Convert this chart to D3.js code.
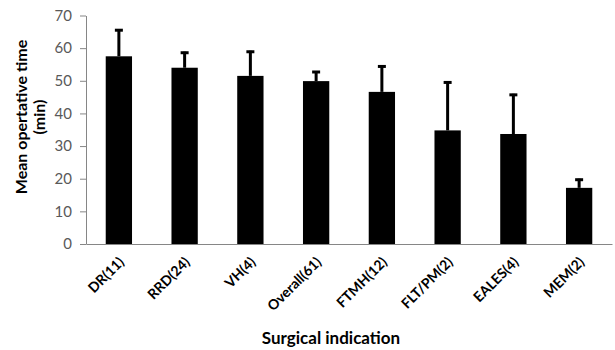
<!DOCTYPE html>
<html>
<head>
<meta charset="utf-8">
<script src="https://cdn.jsdelivr.net/npm/d3@7"></script>
<style>
  html, body { margin: 0; padding: 0; background: #fff; }
  svg { display: block; }
</style>
</head>
<body>
<svg id="chart" width="615" height="350"></svg>
<script>
// Surgical indications with case counts
const categories = ["DR(11)", "RRD(24)", "VH(4)", "Overall(61)", "FTMH(12)", "FLT/PM(2)", "EALES(4)", "MEM(2)"];
// Mean operative time (min)
const meanTime = [57.5, 54.0, 51.5, 49.9, 46.6, 34.8, 33.7, 17.2];
// Upper end of the error bar (mean + SD)
const upperTime = [65.8, 58.9, 59.2, 53.0, 54.7, 49.8, 46.0, 20.0];
const yTicks = [0, 10, 20, 30, 40, 50, 60, 70];

const svg = d3.select("#chart");
const plot = { left: 86, right: 612, top: 15.5, bottom: 244 };
const font = "Lato, 'Open Sans', sans-serif";

const x = d3.scaleBand().domain(categories).range([plot.left, plot.right]).paddingInner(0.6).paddingOuter(0.3);
const y = d3.scaleLinear().domain([0, 70]).range([plot.bottom, plot.top]);

// Y axis
const yAxis = svg.append("g")
  .attr("transform", `translate(${plot.left},0)`)
  .call(d3.axisLeft(y).tickValues(yTicks).tickSize(6).tickSizeOuter(0).tickPadding(8).tickFormat(d3.format("d")));
yAxis.select(".domain").attr("stroke", "#868686").attr("stroke-width", 1);
yAxis.selectAll(".tick line").attr("stroke", "#868686");
yAxis.selectAll(".tick text")
  .attr("fill", "#595959")
  .style("font-family", font)
  .style("font-size", "15px");

// Bars
svg.append("g").selectAll("rect")
  .data(categories)
  .join("rect")
  .attr("x", d => x(d))
  .attr("width", x.bandwidth())
  .attr("y", (d, i) => y(meanTime[i]))
  .attr("height", (d, i) => y(0) - y(meanTime[i]))
  .attr("fill", "#000");

// Error bars (upper only)
const err = svg.append("g").attr("stroke", "#000");
err.selectAll("line.stem")
  .data(categories)
  .join("line")
  .attr("class", "stem")
  .attr("x1", d => x(d) + x.bandwidth() / 2)
  .attr("x2", d => x(d) + x.bandwidth() / 2)
  .attr("y1", (d, i) => y(meanTime[i]))
  .attr("y2", (d, i) => y(upperTime[i]))
  .attr("stroke-width", 3);
err.selectAll("line.cap")
  .data(categories)
  .join("line")
  .attr("class", "cap")
  .attr("x1", d => x(d) + x.bandwidth() / 2 - 4)
  .attr("x2", d => x(d) + x.bandwidth() / 2 + 4)
  .attr("y1", (d, i) => y(upperTime[i]) + 1)
  .attr("y2", (d, i) => y(upperTime[i]) + 1)
  .attr("stroke-width", 3);

// X axis
const xAxis = svg.append("g")
  .attr("transform", `translate(0,${plot.bottom})`)
  .call(d3.axisBottom(x).tickSize(0).tickSizeOuter(0));
xAxis.select(".domain").attr("stroke", "#868686").attr("stroke-width", 1);
xAxis.selectAll(".tick text")
  .attr("fill", "#000")
  .style("font-family", font)
  .style("font-weight", "bold")
  .style("font-size", "14px")
  .attr("text-anchor", "end")
  .attr("dy", null)
  .attr("y", 0)
  .attr("transform", "translate(6,19) rotate(-45)");

// Axis titles
const yTitle = svg.append("text")
  .attr("transform", "translate(27,117) rotate(-90)")
  .attr("text-anchor", "middle")
  .style("font-family", font)
  .style("font-weight", "bold")
  .style("font-size", "16px")
  .attr("fill", "#000");
yTitle.append("tspan").attr("x", 0).attr("dy", 0).text("Mean opertative time");
yTitle.append("tspan").attr("x", 0).attr("dy", 18).text("(min)");

svg.append("text")
  .attr("x", 331)
  .attr("y", 344)
  .attr("text-anchor", "middle")
  .style("font-family", font)
  .style("font-weight", "bold")
  .style("font-size", "17px")
  .attr("fill", "#000")
  .text("Surgical indication");
</script>
</body>
</html>
